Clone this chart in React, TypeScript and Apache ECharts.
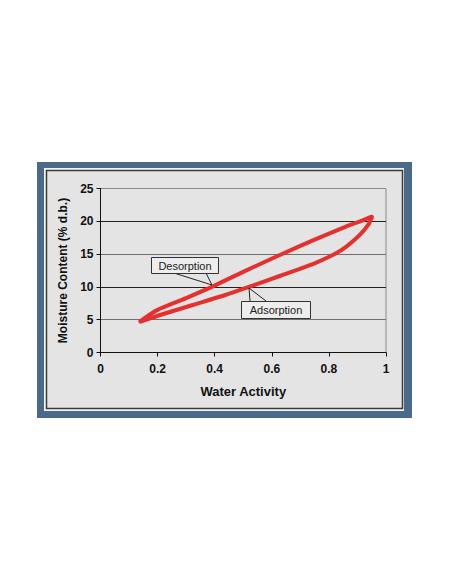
import React, { useEffect, useRef } from "react";
import * as echarts from "echarts";

const xTicks = [0, 0.2, 0.4, 0.6, 0.8, 1];
const yTicks = [0, 5, 10, 15, 20, 25];

const desorptionAw = [0.95, 0.91, 0.86, 0.75, 0.63, 0.5, 0.39, 0.3, 0.2, 0.14];
const desorptionMc = [20.7, 20.0, 19.2, 17.2, 14.9, 12.3, 10.0, 8.3, 6.5, 4.8];

const adsorptionAw = [0.14, 0.2, 0.32, 0.44, 0.52, 0.63, 0.75, 0.82, 0.86, 0.91, 0.94, 0.95];
const adsorptionMc = [4.7, 5.6, 7.2, 8.8, 10.0, 11.7, 13.6, 15.0, 16.1, 18.0, 19.6, 20.6];

const xName = "Water Activity";
const yName = "Moisture Content (% d.b.)";
const labelDes = "Desorption";
const labelAds = "Adsorption";

export default function App() {
  const ref = useRef<HTMLDivElement>(null);
  useEffect(() => {
    if (!ref.current) return;
    const chart = echarts.init(ref.current, undefined, { renderer: "svg" });
    const font = "'Liberation Sans', Arial, sans-serif";
    const red = "#e5302d";
    const des = desorptionAw.map((a, i) => [a, desorptionMc[i]]);
    const ads = adsorptionAw.map((a, i) => [a, adsorptionMc[i]]);
    chart.setOption({
      animation: false,
      backgroundColor: "#ffffff",
      grid: {
        left: 100.5,
        right: 66,
        top: 188.5,
        bottom: 231.5,
        show: true,
        backgroundColor: "#e4e4e4",
        borderColor: "#8a8a8a",
        borderWidth: 1,
      },
      xAxis: {
        type: "value",
        min: xTicks[0],
        max: xTicks[xTicks.length - 1],
        interval: 0.2,
        name: xName,
        nameLocation: "middle",
        nameGap: 32,
        nameTextStyle: { fontFamily: font, fontWeight: "bold", fontSize: 13, color: "#111" },
        axisLine: { show: true, lineStyle: { color: "#111", width: 1 } },
        axisTick: { show: true, inside: false, length: 4, lineStyle: { color: "#111" } },
        axisLabel: {
          margin: 10,
          fontFamily: font,
          fontWeight: "bold",
          fontSize: 12,
          color: "#111",
          formatter: (v: number) => String(Math.round(v * 10) / 10),
        },
        splitLine: { show: false },
      },
      yAxis: {
        type: "value",
        min: yTicks[0],
        max: yTicks[yTicks.length - 1],
        interval: 5,
        name: yName,
        nameLocation: "middle",
        nameGap: 24,
        nameTextStyle: { fontFamily: font, fontWeight: "bold", fontSize: 12, color: "#111" },
        axisLine: { show: true, lineStyle: { color: "#111", width: 1 } },
        axisTick: { show: true, inside: false, length: 4, lineStyle: { color: "#111" } },
        axisLabel: { margin: 7, fontFamily: font, fontWeight: "bold", fontSize: 12, color: "#111" },
        splitLine: {
          show: true,
          lineStyle: { color: ["#111", "#707070", "#222", "#707070", "#222", "#8a8a8a"], width: 1 },
        },
      },
      series: [
        {
          name: labelDes,
          type: "line",
          data: des,
          smooth: 0.25,
          showSymbol: false,
          lineStyle: { color: red, width: 4, cap: "round", join: "round" },
          z: 5,
        },
        {
          name: labelAds,
          type: "line",
          data: ads,
          smooth: 0.25,
          showSymbol: false,
          lineStyle: { color: red, width: 4, cap: "round", join: "round" },
          z: 5,
        },
      ],
      graphic: [
        { type: "rect", z: -10, shape: { x: 37, y: 162, width: 375, height: 256 }, style: { fill: "#4a6a8c" } },
        { type: "rect", z: -9, shape: { x: 44, y: 168, width: 360, height: 243 }, style: { fill: "#f4f4f4" } },
        {
          type: "rect",
          z: -8,
          shape: { x: 46.5, y: 170.5, width: 356, height: 238 },
          style: { fill: "#e4e4e4", stroke: "#3a3a3a", lineWidth: 1.5 },
        },
        {
          type: "polyline",
          z: 20,
          shape: { points: [[174, 273], [212, 285], [206, 273]] },
          style: { stroke: "#222", lineWidth: 1, fill: null },
        },
        {
          type: "rect",
          z: 20,
          shape: { x: 151.5, y: 257.5, width: 67, height: 16 },
          style: { fill: "#ededed", stroke: "#333", lineWidth: 1 },
        },
        {
          type: "text",
          z: 21,
          x: 185,
          y: 265.5,
          style: {
            text: labelDes,
            fontFamily: font,
            fontSize: 11,
            fill: "#222",
            align: "center",
            verticalAlign: "middle",
          },
        },
        {
          type: "polyline",
          z: 20,
          shape: { points: [[250, 301], [249, 288], [266, 301]] },
          style: { stroke: "#222", lineWidth: 1, fill: null },
        },
        {
          type: "rect",
          z: 20,
          shape: { x: 241.5, y: 301.5, width: 69, height: 17 },
          style: { fill: "#ededed", stroke: "#333", lineWidth: 1 },
        },
        {
          type: "text",
          z: 21,
          x: 276,
          y: 310,
          style: {
            text: labelAds,
            fontFamily: font,
            fontSize: 11,
            fill: "#222",
            align: "center",
            verticalAlign: "middle",
          },
        },
      ],
    });
    return () => chart.dispose();
  }, []);
  return <div ref={ref} style={{ position: "absolute", left: 0, top: 0, width: 452, height: 584 }} />;
}
